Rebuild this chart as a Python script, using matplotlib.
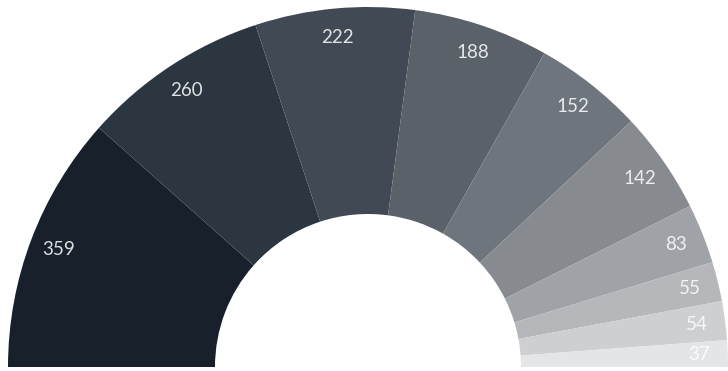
import matplotlib
matplotlib.use("Agg")
import matplotlib.pyplot as plt
import numpy as np

values = [359, 260, 222, 188, 152, 142, 83, 55, 54, 37]
labels = ["359", "260", "222", "188", "152", "142", "83", "55", "54", "37"]
colors = ["#18212b", "#2b3640", "#414a54", "#5a6169", "#6f757c",
          "#878b90", "#9fa2a6", "#b5b7ba", "#cdcfd1", "#e4e5e6"]

plt.rcParams['font.family'] = ['Lato', 'DejaVu Sans']

fig = plt.figure(figsize=(7.28, 3.71), dpi=100)
ax = fig.add_axes([0, 0, 1, 1])

cx, cy = 368, 4
R, r_in = 360, 153
total = sum(values)
wedges, _ = ax.pie(values + [total], colors=colors + ["none"], startangle=180,
                   counterclock=False, radius=R, center=(cx, cy),
                   wedgeprops=dict(width=R - r_in, linewidth=0), frame=True)
ax.set_xlim(0, 728)
ax.set_ylim(0, 371)
ax.set_aspect('equal')
ax.axis('off')

cum = np.cumsum([0] + values)
for i, lab in enumerate(labels):
    mid = 180 - (cum[i] + cum[i + 1]) / 2 / total * 180
    a = np.deg2rad(mid)
    rl = 0.92 * R
    ax.text(cx + rl * np.cos(a), cy + rl * np.sin(a), lab, ha='center', va='center',
            fontsize=13.5, color='white', alpha=0.85)

fig.savefig("out.png", dpi=100)
